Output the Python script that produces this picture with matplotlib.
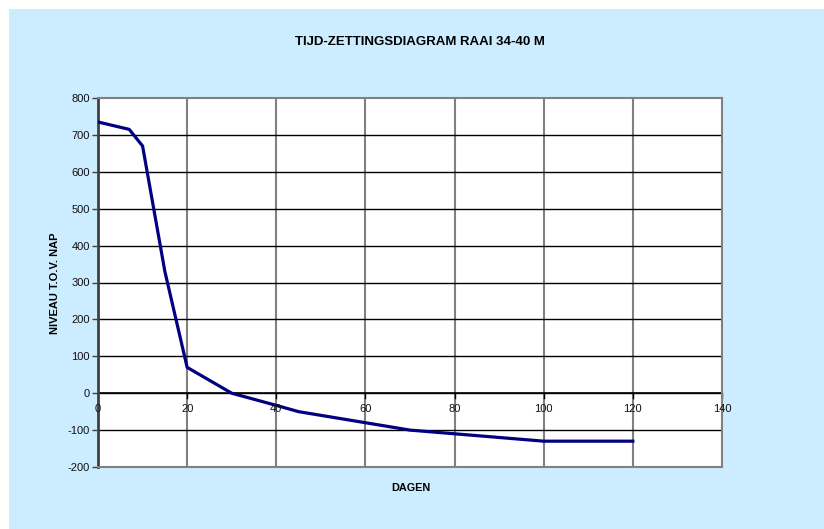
import matplotlib
matplotlib.use("Agg")
import matplotlib.pyplot as plt
from matplotlib.patches import Rectangle

days = [0, 7, 10, 15, 20, 30, 40, 45, 70, 80, 100, 120]
level = [735, 715, 670, 330, 70, 0, -33, -50, -100, -110, -130, -130]
x_ticks = [0, 20, 40, 60, 80, 100, 120, 140]
y_ticks = [-200, -100, 0, 100, 200, 300, 400, 500, 600, 700, 800]

plt.rcParams['font.family'] = ['Liberation Sans', 'DejaVu Sans']

W, H = 824, 529
fig = plt.figure(figsize=(W / 100, H / 100), dpi=100)
fig.patch.set_facecolor('white')
bg = '#CCECFF'
fig.patches.append(Rectangle((9 / W, 0), 1 - 9 / W, 1 - 9 / H, transform=fig.transFigure,
                             facecolor=bg, edgecolor='none', zorder=-10))

x0, x1 = 98, 722
y0, y1 = 98, 467
ax = fig.add_axes([x0 / W, 1 - y1 / H, (x1 - x0) / W, (y1 - y0) / H])
ax.set_facecolor('white')
ax.set_xlim(0, 140)
ax.set_ylim(-200, 800)

# gridlines
for xv in x_ticks[1:-1]:
    ax.axvline(xv, color='#808080', lw=1.5, zorder=1)
for yv in y_ticks[1:-1]:
    ax.axhline(yv, color='black', lw=1.0, zorder=1)

ax.plot(days, level, color='#000080', lw=2.3, zorder=3, solid_joinstyle='round')

for s in ['top', 'right', 'bottom']:
    ax.spines[s].set_color('#808080')
    ax.spines[s].set_linewidth(1.5)
ax.spines['left'].set_color('#404040')
ax.spines['left'].set_linewidth(2)

ax.set_yticks(y_ticks)
ax.set_yticklabels([str(v) for v in y_ticks], fontsize=8)
ax.tick_params(axis='y', length=4, width=1, color='#404040', pad=2, labelcolor='#111111')

# x axis at y=0
ax.set_xticks([])
ax.axhline(0, color='black', lw=1.2, zorder=2)
for xv in x_ticks:
    ax.plot([xv, xv], [0, -12], color='black', lw=1, zorder=2, clip_on=False)
    ax.text(xv, -28, str(xv), ha='center', va='top', fontsize=8, color='#111111', zorder=4)

fig.text(420 / W, 1 - 42 / H, 'TIJD-ZETTINGSDIAGRAM RAAI 34-40 M', ha='center', va='center',
         fontsize=9.5, fontweight='bold')
fig.text(411 / W, 1 - 488 / H, 'DAGEN', ha='center', va='center', fontsize=7.8, fontweight='bold')
fig.text(55 / W, 1 - 283 / H, 'NIVEAU T.O.V. NAP', ha='center', va='center', rotation=90,
         fontsize=8, fontweight='bold')

fig.savefig('out.png', dpi=100, facecolor=fig.get_facecolor())
